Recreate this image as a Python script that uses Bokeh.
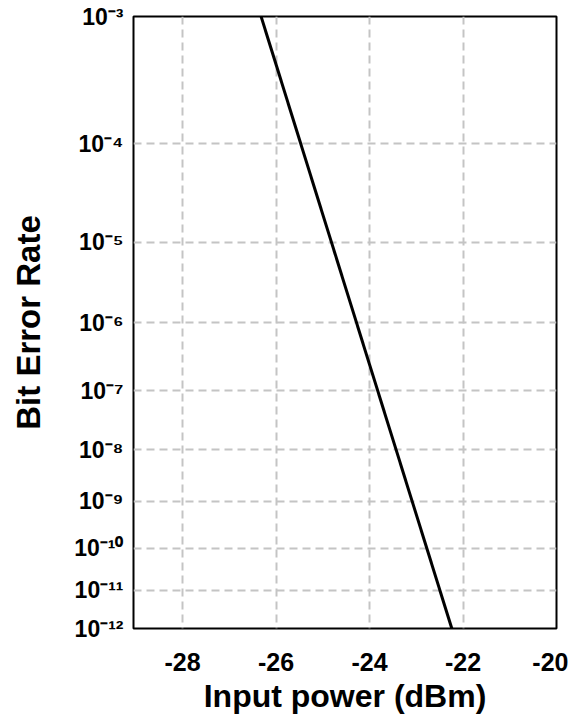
import math
import numpy as np
from bokeh.plotting import figure
from bokeh.models import Range1d, FixedTicker
from bokeh.embed import file_html
from bokeh.resources import INLINE

# Data
input_power = [-26.32, -22.24]          # dBm
bit_error_rate = [1e-3, 1e-12]

x_ticks = [-28, -26, -24, -22, -20]
ber_exponents = [3, 4, 5, 6, 7, 8, 9, 10, 11, 12]

SUP = str.maketrans("-0123456789", "⁻⁰¹²³⁴⁵⁶⁷⁸⁹")


def ber_scale(b):
    # BER axis: log10(-log10(BER))
    return np.log10(-np.log10(np.asarray(b, dtype=float)))


y_ticks = [float(ber_scale(10.0 ** (-e))) for e in ber_exponents]
y_labels = {t: "10" + ("-" + str(e)).translate(SUP) for t, e in zip(y_ticks, ber_exponents)}
x_labels = {t: str(t) for t in x_ticks}

p = figure(
    width=568, height=716,
    x_range=Range1d(-29.05, -20),
    y_range=Range1d(float(ber_scale(1e-12)), float(ber_scale(1e-3))),
    output_backend="svg", toolbar_location=None,
    min_border_left=133, min_border_right=12,
    min_border_top=16, min_border_bottom=88,
)
p.background_fill_color = "white"
p.border_fill_color = "white"
p.outline_line_color = "black"
p.outline_line_width = 2

p.line(input_power, ber_scale(bit_error_rate), line_color="black", line_width=3)

font = "Liberation Sans"
p.xaxis.ticker = FixedTicker(ticks=x_ticks)
p.xaxis.major_label_overrides = x_labels
p.yaxis.ticker = FixedTicker(ticks=y_ticks)
p.yaxis.major_label_overrides = y_labels

for ax in (p.xaxis[0], p.yaxis[0]):
    ax.axis_line_color = None
    ax.major_tick_line_color = None
    ax.minor_tick_line_color = None
    ax.major_tick_out = 0
    ax.major_tick_in = 0
    ax.major_label_text_font = font
    ax.major_label_text_font_style = "bold"
    ax.major_label_text_color = "black"
    ax.axis_label_text_font = font
    ax.axis_label_text_font_style = "bold"
    ax.axis_label_text_color = "black"

p.xaxis.axis_label = "Input power (dBm)"
p.xaxis.axis_label_text_font_size = "32px"
p.xaxis.major_label_text_font_size = "25px"
p.xaxis.major_label_standoff = 24
p.xaxis.axis_label_standoff = 4

p.yaxis.axis_label = "Bit Error Rate"
p.yaxis.axis_label_text_font_size = "33px"
p.yaxis.major_label_text_font_size = "23px"
p.yaxis.major_label_standoff = 10
p.yaxis.axis_label_standoff = 24

for g in (p.xgrid[0], p.ygrid[0]):
    g.grid_line_color = "#c4c4c4"
    g.grid_line_width = 2
    g.grid_line_dash = "8 5"

open("out.html", "w").write(file_html(p, INLINE))
